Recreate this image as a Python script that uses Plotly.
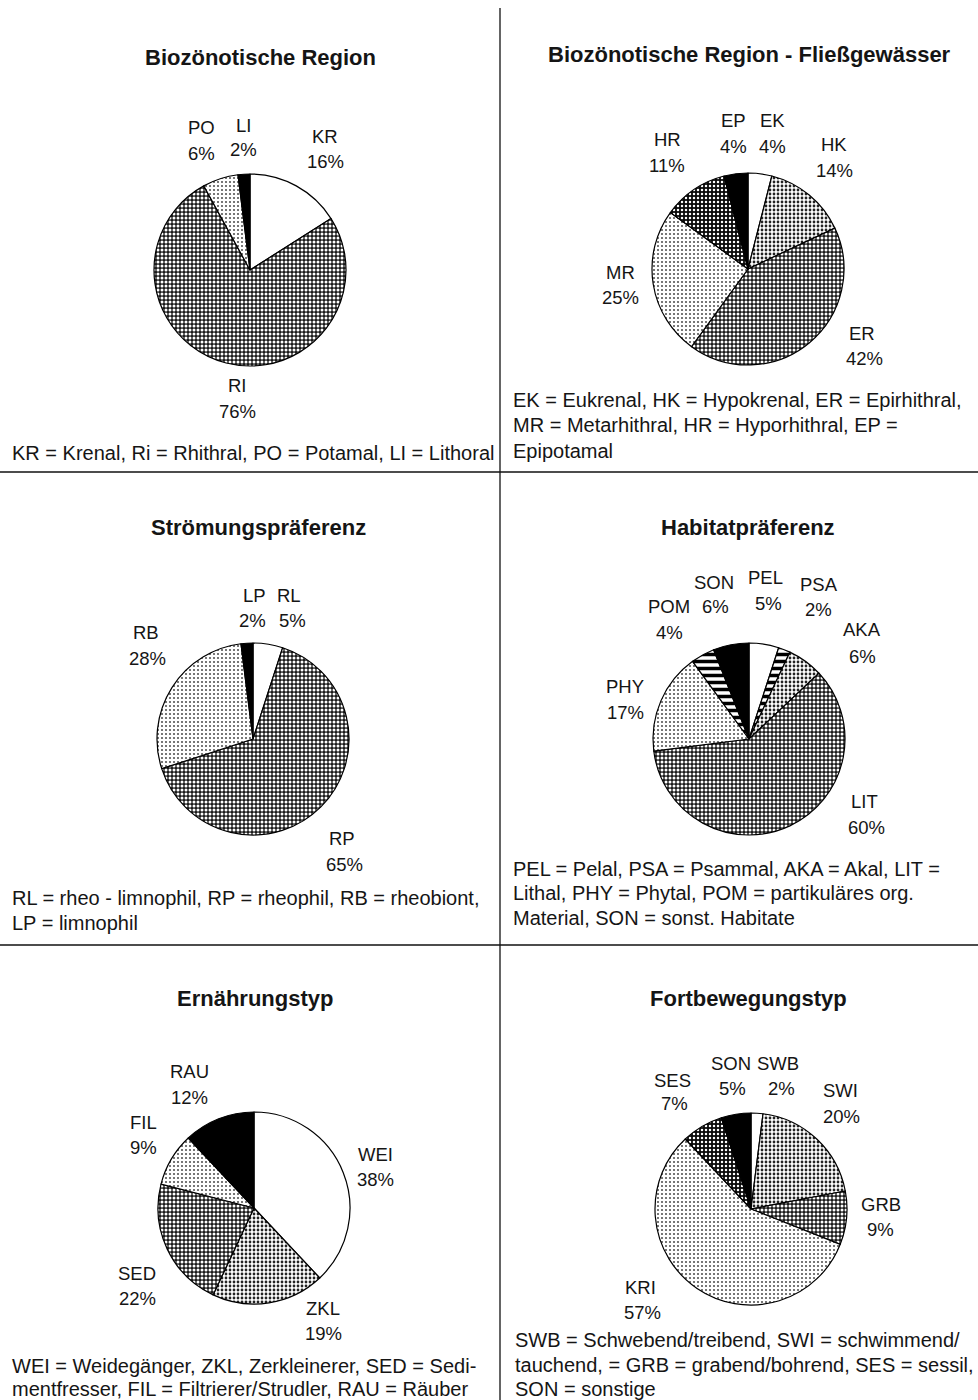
import plotly.graph_objects as go

W, H = 978, 1400

# ---------------- data ----------------
titles = ["Biozönotische Region", "Biozönotische Region - Fließgewässer",
          "Strömungspräferenz", "Habitatpräferenz",
          "Ernährungstyp", "Fortbewegungstyp"]

p1_labels = ["KR", "RI", "PO", "LI"]
p1_values = [16, 76, 6, 2]
p2_labels = ["EK", "HK", "ER", "MR", "HR", "EP"]
p2_values = [4, 14, 42, 25, 11, 4]
p3_labels = ["RL", "RP", "RB", "LP"]
p3_values = [5, 65, 28, 2]
p4_labels = ["PEL", "PSA", "AKA", "LIT", "PHY", "POM", "SON"]
p4_values = [5, 2, 6, 60, 17, 4, 6]
p5_labels = ["WEI", "ZKL", "SED", "FIL", "RAU"]
p5_values = [38, 19, 22, 9, 12]
p6_labels = ["SWB", "SWI", "GRB", "KRI", "SES", "SON"]
p6_values = [2, 20, 9, 57, 7, 5]

legend_texts = [
    ["KR = Krenal, Ri = Rhithral, PO = Potamal, LI = Lithoral"],
    ["EK = Eukrenal, HK = Hypokrenal, ER = Epirhithral,",
     "MR = Metarhithral, HR = Hyporhithral, EP =",
     "Epipotamal"],
    ["RL = rheo - limnophil, RP = rheophil, RB = rheobiont,",
     "LP = limnophil"],
    ["PEL = Pelal, PSA = Psammal, AKA = Akal, LIT =",
     "Lithal, PHY = Phytal, POM = partikuläres org.",
     "Material, SON = sonst. Habitate"],
    ["WEI = Weidegänger, ZKL, Zerkleinerer, SED = Sedi-",
     "mentfresser, FIL = Filtrierer/Strudler, RAU = Räuber"],
    ["SWB = Schwebend/treibend, SWI = schwimmend/",
     "tauchend, = GRB = grabend/bohrend, SES = sessil,",
     "SON = sonstige"],
]

# ---------------- styles / layout ----------------
fills = [
    ["white", "dark", "light", "black"],
    ["white", "medium", "dark", "light", "darker", "black"],
    ["white", "dark", "light", "black"],
    ["white", "stripes", "medium", "dark", "light", "stripes", "black"],
    ["white", "medium", "dark", "light", "black"],
    ["white", "medium", "dark", "light", "darker", "black"],
]
STYLE = {
    #          marker color, shape, bg, fg, size, solidity
    "white":   ("#ffffff", "", "#ffffff", "#000000", 4, 0.3),
    "black":   ("#000000", "", "#000000", "#000000", 4, 0.3),
    "light":   ("#e6e6e6", ".", "#ffffff", "#555555", 4, 0.22),
    "medium":  ("#c8c8c8", ".", "#ffffff", "#222222", 4, 0.38),
    "dark":    ("#707070", ".", "#1a1a1a", "#ffffff", 4, 0.45),
    "darker":  ("#404040", ".", "#0a0a0a", "#ffffff", 4, 0.3),
    "stripes": ("#808080", "-", "#ffffff", "#000000", 7, 0.5),
}

centers = [(250, 270), (748, 269), (253, 739), (749, 739), (254, 1208), (751, 1209)]
R = 96
title_pos = [(260, 58), (749, 55), (258, 527), (748, 527), (255, 998), (748, 998)]
legend_pos = [(10, [453]), (511, [400, 425, 451]), (10, [898, 923]),
              (511, [869, 893, 918]), (10, [1366, 1389]), (513, [1340, 1365, 1389])]

# label name (x, y) and percentage (x, y) positions, pixel coords
label_pos = [
    [(325, 136, 325, 161), (237, 386, 237, 412), (201, 128, 201, 153), (243, 125, 243, 150)],
    [(772, 121, 772, 147), (834, 144, 834, 170), (862, 334, 864, 358),
     (620, 272, 620, 297), (667, 140, 667, 165), (733, 121, 733, 147)],
    [(289, 595, 292, 620), (342, 838, 344, 864), (146, 632, 147, 658), (254, 595, 252, 620)],
    [(765, 578, 768, 603), (819, 584, 818, 609), (862, 630, 862, 656),
     (864, 801, 866, 827), (625, 687, 625, 712), (669, 607, 669, 632), (714, 582, 715, 607)],
    [(375, 1154, 375, 1179), (323, 1308, 323, 1333), (137, 1273, 137, 1298),
     (143, 1122, 143, 1147), (189, 1071, 189, 1097)],
    [(778, 1063, 781, 1088), (840, 1090, 841, 1116), (881, 1204, 880, 1229),
     (640, 1287, 642, 1312), (672, 1080, 674, 1103), (731, 1063, 732, 1088)],
]

FONT = "Liberation Sans, Arial, Helvetica, sans-serif"
TXT = "#151515"
TITLE_SIZE = 22
LABEL_SIZE = 18.5
LEGEND_SIZE = 20


def px(x):
    return x / W


def py(y):
    return 1 - y / H


all_labels = [p1_labels, p2_labels, p3_labels, p4_labels, p5_labels, p6_labels]
all_values = [p1_values, p2_values, p3_values, p4_values, p5_values, p6_values]

fig = go.Figure()
annotations = []

for i in range(6):
    labels, values = all_labels[i], all_values[i]
    st = [STYLE[f] for f in fills[i]]
    cx, cy = centers[i]
    fig.add_trace(go.Pie(
        labels=labels, values=values, sort=False,
        direction="clockwise", rotation=0,
        textinfo="none", hoverinfo="label+percent", showlegend=False,
        domain=dict(x=[px(cx - R), px(cx + R)], y=[py(cy + R), py(cy - R)]),
        marker=dict(
            colors=[s[0] for s in st],
            line=dict(color="#000000", width=1.2),
            pattern=dict(
                shape=[s[1] for s in st],
                bgcolor=[s[2] for s in st],
                fgcolor=[s[3] for s in st],
                size=[s[4] for s in st],
                solidity=[s[5] for s in st],
                fillmode="replace",
            ),
        ),
    ))
    # title
    tx, ty = title_pos[i]
    annotations.append(dict(x=px(tx), y=py(ty), xref="paper", yref="paper",
                            text="<b>%s</b>" % titles[i], showarrow=False,
                            xanchor="center", yanchor="middle",
                            font=dict(family=FONT, size=TITLE_SIZE, color=TXT)))
    # slice labels
    for lab, val, pos in zip(labels, values, label_pos[i]):
        xn, yn, xp, yp = pos
        annotations.append(dict(x=px(xn), y=py(yn), xref="paper", yref="paper",
                                text=lab, showarrow=False, xanchor="center",
                                yanchor="middle",
                                font=dict(family=FONT, size=LABEL_SIZE, color=TXT)))
        annotations.append(dict(x=px(xp), y=py(yp), xref="paper", yref="paper",
                                text="%d%%" % val, showarrow=False, xanchor="center",
                                yanchor="middle",
                                font=dict(family=FONT, size=LABEL_SIZE, color=TXT)))
    # legend text
    lx, lys = legend_pos[i]
    for line, ly in zip(legend_texts[i], lys):
        annotations.append(dict(x=px(lx), y=py(ly), xref="paper", yref="paper",
                                text=line, showarrow=False, xanchor="left",
                                yanchor="middle",
                                font=dict(family=FONT, size=LEGEND_SIZE, color=TXT)))

shapes = [
    dict(type="line", xref="paper", yref="paper", x0=px(500), x1=px(500),
         y0=py(8), y1=py(1400), line=dict(color="#111111", width=1.3)),
    dict(type="line", xref="paper", yref="paper", x0=0, x1=1,
         y0=py(472), y1=py(472), line=dict(color="#111111", width=1.3)),
    dict(type="line", xref="paper", yref="paper", x0=0, x1=1,
         y0=py(945), y1=py(945), line=dict(color="#111111", width=1.3)),
]

fig.update_layout(
    width=W, height=H,
    margin=dict(l=0, r=0, t=0, b=0),
    paper_bgcolor="white", plot_bgcolor="white",
    annotations=annotations, shapes=shapes,
)

fig.write_html("out.html", config={"displayModeBar": False},
               post_script="document.body.style.margin='0';")
